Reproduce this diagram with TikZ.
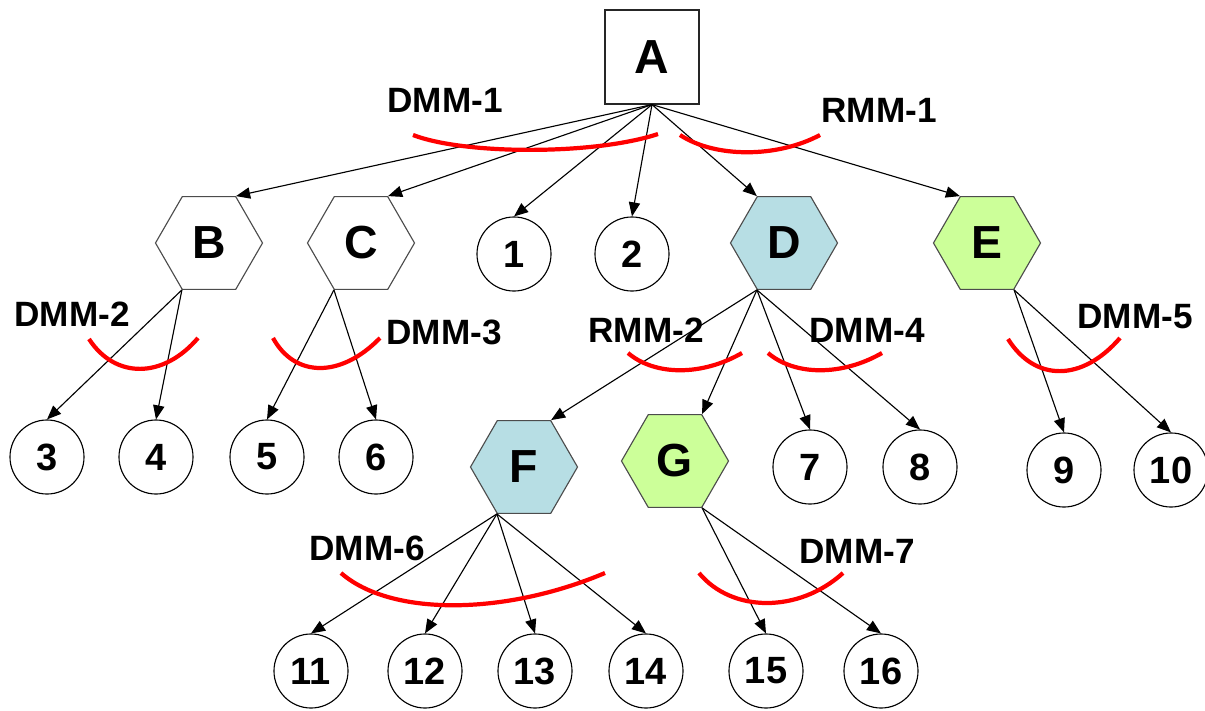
\documentclass[tikz,border=0pt]{standalone}
\usepackage{fontspec}
\setmainfont{Liberation Sans}
\usetikzlibrary{arrows.meta, shapes.geometric}

\definecolor{hexblue}{RGB}{183,222,228}
\definecolor{hexgreen}{RGB}{204,255,153}

\begin{document}
\begin{tikzpicture}[
    x=0.025cm, y=-0.025cm,
    every node/.style={font=\bfseries},
    root/.style={
        rectangle,
        draw=black!85,
        fill=white,
        minimum size=2.35cm,
        line width=0.8pt,
        font=\fontsize{34}{40}\selectfont\bfseries
    },
    hexnode/.style={
        regular polygon,
        regular polygon sides=6,
        draw=black!70,
        fill=white,
        minimum size=2.675cm,
        inner sep=0pt,
        line width=0.8pt,
        font=\fontsize{33}{40}\selectfont\bfseries
    },
    bluehex/.style={hexnode, fill=hexblue},
    greenhex/.style={hexnode, fill=hexgreen},
    leaf/.style={
        circle,
        draw=black,
        fill=white,
        minimum size=1.85cm,
        inner sep=0pt,
        line width=0.8pt,
        font=\fontsize{27}{32}\selectfont\bfseries
    },
    tag/.style={font=\fontsize{25}{30}\selectfont\bfseries},
    arrow/.style={
        -{Triangle[length=10pt, width=8pt]},
        line width=0.8pt,
        color=black
    },
    cut/.style={red, line width=3pt}
]
\useasboundingbox (0,0) rectangle (1205,711);

% ==================== LEVEL 0 ====================
\node[root] (A) at (652,57) {A};

% ==================== LEVEL 1 ====================
\node[hexnode] (B) at (209,243) {B};
\node[hexnode] (C) at (361,243) {C};
\node[leaf] (n1) at (514,254) {1};
\node[leaf] (n2) at (632,254) {2};
\node[bluehex] (D) at (784,243) {D};
\node[greenhex] (E) at (987,243) {E};

\draw[arrow] (A.south) -- (B.corner 1);
\draw[arrow] (A.south) -- (C.corner 1);
\draw[arrow] (A.south) -- (n1.north);
\draw[arrow] (A.south) -- (n2.north);
\draw[arrow] (A.south) -- (D.corner 2);
\draw[arrow] (A.south) -- (E.corner 2);

% ==================== LEVEL 2 ====================
\node[leaf] (n3) at (47,457) {3};
\node[leaf] (n4) at (156,457) {4};
\node[leaf] (n5) at (267,457) {5};
\node[leaf] (n6) at (376,457) {6};
\node[bluehex] (F) at (524,467) {F};
\node[greenhex] (G) at (675,461) {G};
\node[leaf] (n7) at (810,467) {7};
\node[leaf] (n8) at (920,467) {8};
\node[leaf] (n9) at (1064,470) {9};
\node[leaf] (n10) at (1171,470) {10};

\draw[arrow] (B.corner 4) -- (n3.north);
\draw[arrow] (B.corner 4) -- (n4.north);
\draw[arrow] (C.corner 4) -- (n5.north);
\draw[arrow] (C.corner 4) -- (n6.north);
\draw[arrow] (D.corner 4) -- (F.corner 1);
\draw[arrow] (D.corner 4) -- (G.corner 1);
\draw[arrow] (D.corner 4) -- (n7.north);
\draw[arrow] (D.corner 4) -- (n8.north);
\draw[arrow] (E.corner 5) -- (n9.north);
\draw[arrow] (E.corner 5) -- (n10.north);

% ==================== LEVEL 3 ====================
\node[leaf] (n11) at (311,671) {11};
\node[leaf] (n12) at (425,671) {12};
\node[leaf] (n13) at (535,671) {13};
\node[leaf] (n14) at (646,671) {14};
\node[leaf] (n15) at (766,671) {15};
\node[leaf] (n16) at (881,671) {16};

\draw[arrow] (F.corner 4) -- (n11.north);
\draw[arrow] (F.corner 4) -- (n12.north);
\draw[arrow] (F.corner 4) -- (n13.north);
\draw[arrow] (F.corner 4) -- (n14.north);
\draw[arrow] (G.corner 5) -- (n15.north);
\draw[arrow] (G.corner 5) -- (n16.north);

% ==================== MODULE LABELS ====================
\node[tag] (dmm1) at (445,100) {DMM-1};
\node[tag] (rmm1) at (879,110) {RMM-1};
\node[tag] (dmm2) at (72,314) {DMM-2};
\node[tag] (dmm3) at (444,332) {DMM-3};
\node[tag] (rmm2) at (646,330) {RMM-2};
\node[tag] (dmm4) at (867,330) {DMM-4};
\node[tag] (dmm5) at (1135,317) {DMM-5};
\node[tag] (dmm6) at (367,548) {DMM-6};
\node[tag] (dmm7) at (857,551) {DMM-7};

% ==================== CUT MARKS ====================
\draw[cut] (413,135) .. controls (465,155) and (595,155) .. (658,134);
\draw[cut] (680,135) .. controls (715,158) and (777,158) .. (820,135);
\draw[cut] (89,339) .. controls (115,379) and (163,379) .. (198,338);
\draw[cut] (273,338) .. controls (295,378) and (341,378) .. (380,338);
\draw[cut] (628,353) .. controls (655,376) and (702,376) .. (742,353);
\draw[cut] (768,353) .. controls (795,376) and (842,376) .. (882,353);
\draw[cut] (1008,339) .. controls (1035,382) and (1082,382) .. (1120,338);
\draw[cut] (341,573) .. controls (390,616) and (503,616) .. (605,573);
\draw[cut] (699,573) .. controls (732,613) and (799,613) .. (843,573);

\end{tikzpicture}
\end{document}
